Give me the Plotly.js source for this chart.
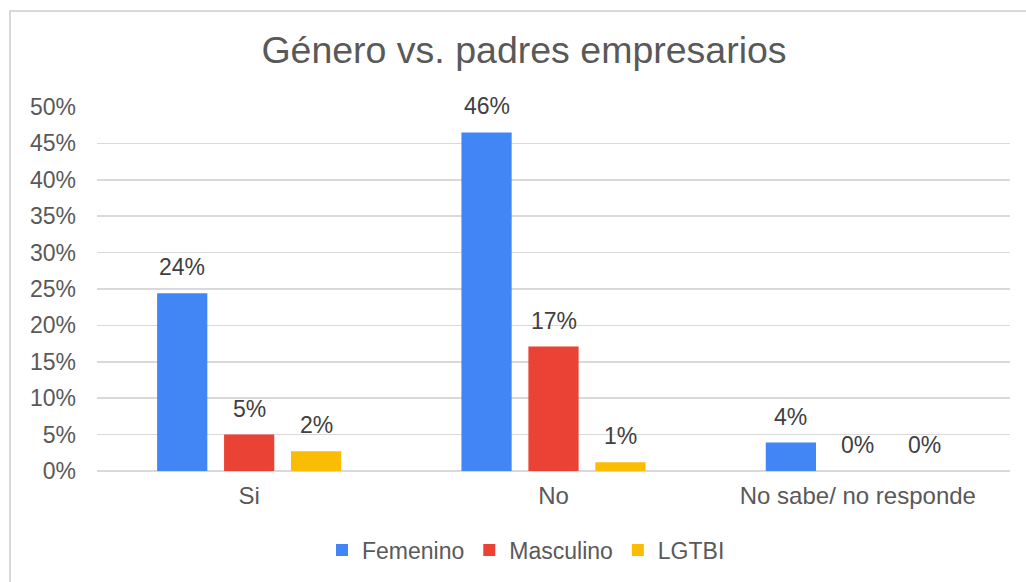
<!DOCTYPE html>
<html>
<head>
<meta charset="utf-8">
<script src="https://cdn.plot.ly/plotly-3.0.1.min.js"></script>
<style>
  html, body { margin: 0; padding: 0; overflow: hidden; background: #fff; }
  #chart { width: 1026px; height: 582px; position: absolute; left: 0; top: 0; }
  #frame { position: absolute; left: 9px; top: 10px; width: 3000px; height: 3000px;
           border: 2px solid #d9d9d9; pointer-events: none; }
</style>
</head>
<body>
<div id="chart"></div>
<div id="frame"></div>
<script>
const categories = ["Si", "No", "No sabe/ no responde"];
const seriesNames = ["Femenino", "Masculino", "LGTBI"];
const femenino = [24.4, 46.5, 3.9];
const masculino = [5.0, 17.1, 0];
const lgtbi = [2.7, 1.2, 0];
const femeninoLabels = ["24%", "46%", "4%"];
const masculinoLabels = ["5%", "17%", "0%"];
const lgtbiLabels = ["2%", "1%", "0%"];
const yTickVals = [0, 5, 10, 15, 20, 25, 30, 35, 40, 45, 50];
const yTickText = ["0%", "5%", "10%", "15%", "20%", "25%", "30%", "35%", "40%", "45%", "50%"];

const colors = ["#4285F4", "#EA4335", "#FBBC04"];
const values = [femenino, masculino, lgtbi];
const labels = [femeninoLabels, masculinoLabels, lgtbiLabels];

const W = 1026, H = 582;
const margin = { l: 97, r: 16, t: 107, b: 110 };
const bargap = 0.34, bargroupgap = 0.25;
const plotW = W - margin.l - margin.r;
const catW = plotW / categories.length;
const pitch = catW * (1 - bargap) / seriesNames.length;

const font = "Liberation Sans, Arial, sans-serif";

const traces = seriesNames.map((name, i) => ({
  type: "bar",
  name: name,
  x: categories,
  y: values[i],
  marker: { color: colors[i] },
  hoverinfo: "skip"
}));

const annotations = [];
values.forEach((arr, i) => {
  arr.forEach((v, j) => {
    annotations.push({
      x: categories[j], y: v, xref: "x", yref: "y",
      xshift: (i - 1) * pitch, yshift: 11,
      yanchor: "bottom", xanchor: "center",
      text: labels[i][j], showarrow: false,
      font: { family: font, size: 23, color: "#404040" }
    });
  });
});

const layout = {
  width: W, height: H,
  margin: margin,
  paper_bgcolor: "#ffffff",
  plot_bgcolor: "#ffffff",
  barmode: "group",
  bargap: bargap,
  bargroupgap: bargroupgap,
  title: {
    text: "Género vs. padres empresarios",
    font: { family: font, size: 37.5, color: "#595959" },
    x: 524 / W, xref: "container", xanchor: "center",
    y: 1 - 50 / H, yref: "container", yanchor: "middle"
  },
  xaxis: {
    type: "category",
    showgrid: false, zeroline: false, showline: false,
    ticks: "",
    tickfont: { family: font, size: 24, color: "#595959" },
    ticklabelstandoff: 8,
    fixedrange: true
  },
  yaxis: {
    range: [0, 50],
    tickmode: "array",
    tickvals: yTickVals,
    ticktext: yTickText,
    showgrid: true, gridcolor: "#d9d9d9", gridwidth: 1.5,
    zeroline: true, zerolinecolor: "#d9d9d9", zerolinewidth: 1.5,
    showline: false, ticks: "",
    tickfont: { family: font, size: 23, color: "#595959" },
    ticklabelstandoff: 20,
    fixedrange: true
  },
  legend: {
    orientation: "h",
    x: (526 - margin.l) / plotW, xanchor: "center",
    y: -78 / (H - margin.t - margin.b), yanchor: "middle",
    font: { family: font, size: 23, color: "#595959" },
    itemclick: false, itemdoubleclick: false
  },
  annotations: annotations,
  showlegend: true
};

Plotly.newPlot("chart", traces, layout, { displayModeBar: false, staticPlot: true });
</script>
</body>
</html>
